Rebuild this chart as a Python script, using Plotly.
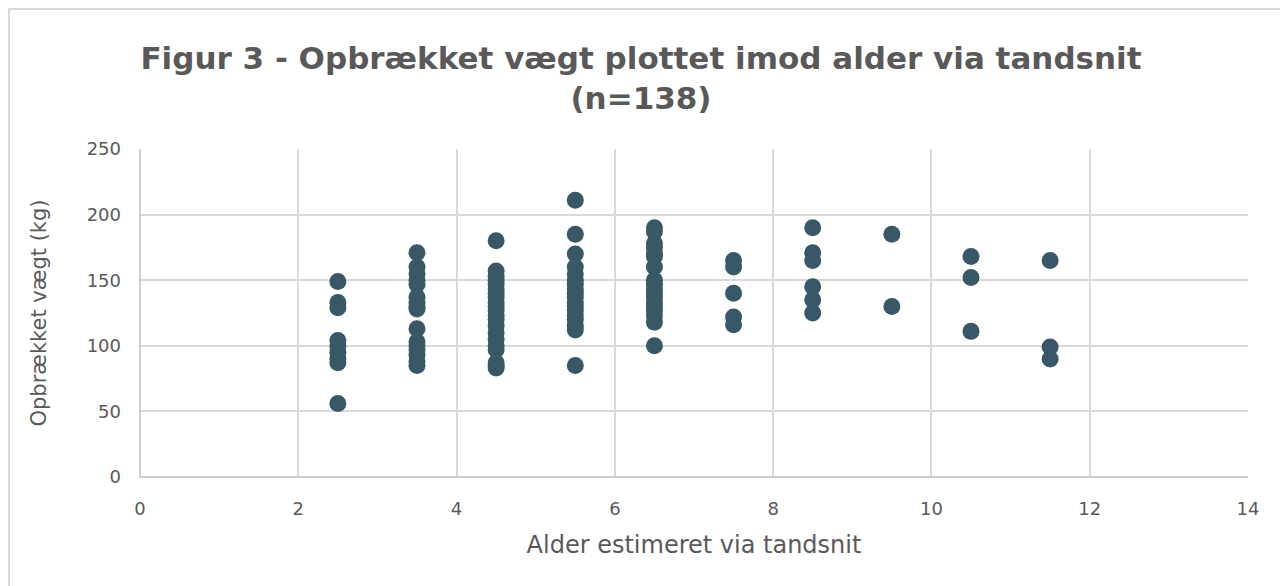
import plotly.graph_objects as go

# Alder (år) og opbrækket vægt (kg)
ages = [2.5, 3.5, 4.5, 5.5, 6.5, 7.5, 8.5, 9.5, 10.5, 11.5]
weights = [
    [149, 133, 129, 104, 100, 95, 90, 87, 56],
    [171, 160, 155, 150, 147, 137, 133, 130, 128, 113, 103, 100, 97, 93, 88, 85],
    [180, 157, 153, 150, 147, 143, 140, 137, 133, 130, 127, 123, 120, 115, 110,
     105, 100, 97, 87, 85, 83],
    [211, 185, 170, 160, 155, 150, 147, 143, 140, 137, 133, 130, 127, 123, 120,
     115, 112, 85],
    [190, 187, 178, 175, 170, 168, 160, 150, 147, 143, 140, 137, 133, 130, 127,
     123, 118, 100],
    [165, 160, 140, 122, 116],
    [190, 171, 165, 145, 135, 125],
    [185, 130],
    [168, 152, 111],
    [165, 99, 90],
]

x_vals = []
y_vals = []
for age, ws in zip(ages, weights):
    for w in ws:
        x_vals.append(age)
        y_vals.append(w)

grey = "#595959"
grid = "#d9d9d9"
font = "DejaVu Sans"

# siden har 8 px body-margen, derfor er marginerne trukket 8 px fra
W, H = 1288, 586
L, R, T, B = 132, 48, 141, 117
pw, ph = W - L - R, H - T - B

fig = go.Figure()
fig.add_trace(go.Scatter(
    x=x_vals, y=y_vals, mode="markers",
    marker=dict(size=17, color="#385868"),
    showlegend=False,
))

fig.update_layout(
    width=W, height=H,
    margin=dict(l=L, r=R, t=T, b=B),
    paper_bgcolor="white", plot_bgcolor="white",
    font=dict(family=font, color=grey, size=18),
    title=dict(
        text="<b>Figur 3 - Opbrækket vægt plottet imod alder via tandsnit<br>(n=138)</b>",
        x=(W / 2 - 8 - 3) / W, xanchor="center", y=1 - 61 / H, yanchor="middle",
        font=dict(family=font, size=31, color=grey),
    ),
)
fig.update_xaxes(
    range=[0, 14], dtick=2, tick0=0,
    showgrid=True, gridcolor=grid, gridwidth=1.5,
    zeroline=False, showline=False, ticks="", ticklabelstandoff=19,
    title=dict(text="Alder estimeret via tandsnit", font=dict(size=24), standoff=18),
)
fig.update_yaxes(
    range=[0, 250], dtick=50,
    showgrid=True, gridcolor=grid, gridwidth=1.5,
    zeroline=False, showline=False, ticks="", ticklabelstandoff=18,
    title=dict(text="Opbrækket vægt (kg)", font=dict(size=21), standoff=34),
)
# akse-streger samt ramme omkring diagramområdet
fig.add_shape(type="line", xref="paper", yref="paper", x0=0, x1=1, y0=0, y1=0,
              line=dict(color="#bfbfbf", width=1.5))
fig.add_shape(type="line", xref="paper", yref="paper", x0=0, x1=0, y0=0, y1=1,
              line=dict(color="#bfbfbf", width=1.5))
fig.add_shape(type="rect", xref="paper", yref="paper",
              x0=(1 - L) / pw, x1=1.2, y0=-0.5, y1=(H - B - 1) / ph,
              line=dict(color=grid, width=2), layer="below")

fig.write_html("out.html")
